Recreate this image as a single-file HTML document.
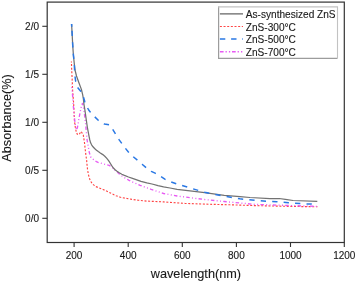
<!DOCTYPE html>
<html><head><meta charset="utf-8">
<style>
html,body{margin:0;padding:0;background:#fff;width:357px;height:282px;overflow:hidden}
svg{display:block;will-change:transform}
text{font-family:"Liberation Sans",sans-serif;fill:#1a1a1a;stroke:#1a1a1a;stroke-width:0.12px}
</style></head>
<body>
<svg width="357" height="282" viewBox="0 0 357 282">
<!-- frame -->
<rect x="47.2" y="2.1" width="297.1" height="240.4" fill="none" stroke="#333" stroke-width="1.2"/>
<!-- y ticks -->
<g stroke="#333" stroke-width="1.1">
<line x1="42.3" y1="26.3" x2="47.2" y2="26.3"/>
<line x1="42.3" y1="74.3" x2="47.2" y2="74.3"/>
<line x1="42.3" y1="122.3" x2="47.2" y2="122.3"/>
<line x1="42.3" y1="170.3" x2="47.2" y2="170.3"/>
<line x1="42.3" y1="218.3" x2="47.2" y2="218.3"/>
<line x1="74.1" y1="242.5" x2="74.1" y2="247"/>
<line x1="128.2" y1="242.5" x2="128.2" y2="247"/>
<line x1="182.3" y1="242.5" x2="182.3" y2="247"/>
<line x1="236.4" y1="242.5" x2="236.4" y2="247"/>
<line x1="290.5" y1="242.5" x2="290.5" y2="247"/>
<line x1="344.3" y1="242.5" x2="344.3" y2="247"/>
</g>
<g font-size="10" text-anchor="end">
<text x="39" y="29.8">2/0</text>
<text x="39" y="77.8">1/5</text>
<text x="39" y="125.8">1/0</text>
<text x="39" y="173.8">0/5</text>
<text x="39" y="221.8">0/0</text>
</g>
<g font-size="10" text-anchor="middle">
<text x="74.1" y="258.6">200</text>
<text x="128.2" y="258.6">400</text>
<text x="182.3" y="258.6">600</text>
<text x="236.4" y="258.6">800</text>
<text x="290.5" y="258.6">1000</text>
<text x="344.3" y="258.6">1200</text>
</g>
<text x="195.9" y="277.8" font-size="12.7" text-anchor="middle">wavelength(nm)</text>
<text transform="translate(11.1,118) rotate(-90)" font-size="12.7" text-anchor="middle">Absorbance(%)</text>

<!-- curves -->
<g fill="none" stroke-linejoin="round">
<!-- red 300C dotted -->
<path stroke="#ff4545" stroke-width="1.15" stroke-dasharray="2 1.65" stroke-dashoffset="1" d="M71.4,61.4 L71.7,70 L72.2,80 L72.6,90 L73.4,100 L74,110 L74.4,120.6 L75.3,127.1 L76.3,132 L77.3,134.3 L79,134.6 L81.2,131.4 L83.3,135.1 L84.4,142 L85.7,153.7 L86.6,160 L87.1,165.6 L87.6,170 L88.3,174 L89.3,178 L90.5,181 L92,183.3 L93.6,184.9 L96,186.6 L99.2,188 L103,189.5 L107,191.2 L111,193.3 L116,195.7 L120.5,197.3 L125,198.2 L130,199 L138.4,200.3 L146.8,201.1 L163.6,201.9 L185,203.4 L204.6,204.1 L230,204.8 L255,205.6 L285,206.3 L317.5,206.8"/>
<!-- magenta 700C dash-dot-dot -->
<path stroke="#e75af3" stroke-width="1.35" stroke-dasharray="3.5 2.3 1 2.4 1 2.22" stroke-dashoffset="3.29" d="M71.5,84.6 L72.3,92 L72.8,98.4 L73.5,108 L74.4,117.7 L75.2,124 L76.3,129.8 L77.3,128 L78.1,124 L78.9,118.5 L80.2,112.3 L81.3,106.6 L82.4,103.4 L83.3,106 L84.5,114.3 L85.6,124 L86.5,133.4 L87.1,140 L88.4,147 L89.3,152.5 L90.7,156.9 L93.8,159.9 L96.4,161.6 L98.1,162.4 L101.9,163.5 L105.9,164.5 L109.1,165.3 L110.6,166.2 L112.5,167.8 L115.1,170.3 L118.9,173.6 L122.3,176.2 L124.9,177.9 L129.1,180.4 L133.4,182.5 L136.3,183.6 L140.2,185.3 L144.9,187.2 L148.3,188.3 L151.2,189.4 L155,190.6 L163.6,193.5 L177.1,196 L190,197.7 L204.6,199.5 L224.2,201.5 L255,204.4 L317.5,206.4"/>
<!-- gray as-synthesized solid -->
<path stroke="#727272" stroke-width="1.25" d="M71.6,24.3 L72.2,35 L72.7,45 L73.4,55 L74.2,63 L75,70 L76.5,76 L79,83 L81.4,89.4 L82.7,94.9 L83.4,99 L83.9,104 L84.9,110 L86.3,120 L87.3,127 L89.1,136.7 L89.8,140 L90.6,142.8 L91.6,144.8 L93,146.8 L94.6,148.5 L96.5,150.2 L98.3,151.6 L100.3,153 L102.8,154.6 L104.8,156.2 L106.6,158.1 L108,159.8 L109.1,161.4 L110.4,163.5 L111.7,165.6 L113.4,168 L115.1,169.8 L117,171.3 L119.3,172.8 L121.8,174.2 L124.4,175.4 L128.5,177 L132.5,178.4 L141,181.4 L146.8,182.9 L152,184 L158,185.6 L163.6,186.8 L170,188 L177.1,189.3 L190,190.9 L204.6,192.6 L224.2,195.4 L240,196.6 L250,197.5 L270,198.6 L279.2,198.5 L285.4,199.3 L293.1,200.5 L317.3,201.3"/>
<!-- blue 500C dashed -->
<path stroke="#2a78e4" stroke-width="1.5" stroke-dasharray="5.3 6.17" stroke-dashoffset="5.0" d="M71.6,24.3 L72.2,35 L72.7,45 L73.4,55 L74.2,63 L74.6,70 L75.2,78 L75.7,81.4 L77.1,87 L80.7,91.3 L83.2,96.3 L84.9,102 L87,106.9 L88.7,110 L90.3,112.1 L94.2,116.3 L98.5,120.5 L101.5,122.6 L104.4,124 L110,124.9 L112.7,129.3 L115.8,134.4 L119.2,139.9 L124.9,147.7 L128.4,151.9 L132.8,156.4 L137.1,159.9 L142.1,164.2 L146.3,167.8 L151.3,171.3 L155.6,173.4 L160.5,176.3 L164.8,179.1 L171.2,182 L176.2,183.8 L186.3,186.8 L204.6,192.3 L224.2,196.2 L239.9,198.8 L255,200.4 L271.5,201.6 L276.9,201.7 L283.1,202.2 L288.5,202.8 L294.7,203.3 L300,203.6 L306.2,203.9 L317.5,204.3"/>
</g>

<path stroke="#2a78e4" stroke-width="1.5" fill="none" d="M71.6,24 L71.75,26.8"/>
<!-- legend -->
<rect x="218.6" y="7" width="118.9" height="51.3" fill="#fff" stroke="none"/>
<path d="M218.6,6.4 L218.6,58.3 L337.5,58.3" fill="none" stroke="#9c9c9c" stroke-width="1.2"/>
<path d="M218,6.9 L337.5,6.9 L337.5,58.3" fill="none" stroke="#c2c2c2" stroke-width="1.1"/>
<line x1="219.9" y1="13.85" x2="243" y2="13.85" stroke="#858585" stroke-width="1.6"/>
<line x1="219.9" y1="26.5" x2="243" y2="26.5" stroke="#ff4545" stroke-width="1.15" stroke-dasharray="2 1.65"/>
<line x1="219.9" y1="39.1" x2="243" y2="39.1" stroke="#2a78e4" stroke-width="1.5" stroke-dasharray="5.4 5.8"/>
<line x1="219.9" y1="51.7" x2="243" y2="51.7" stroke="#e75af3" stroke-width="1.35" stroke-dasharray="3.7 1.9 1.3 2.1 1.3 1.8"/>
<g font-size="10.1">
<text x="245.8" y="18.0">As-synthesized ZnS</text>
<text x="245.8" y="30.7">ZnS-300°C</text>
<text x="245.8" y="43.3">ZnS-500°C</text>
<text x="245.8" y="55.9">ZnS-700°C</text>
</g>
</svg>
</body></html>
